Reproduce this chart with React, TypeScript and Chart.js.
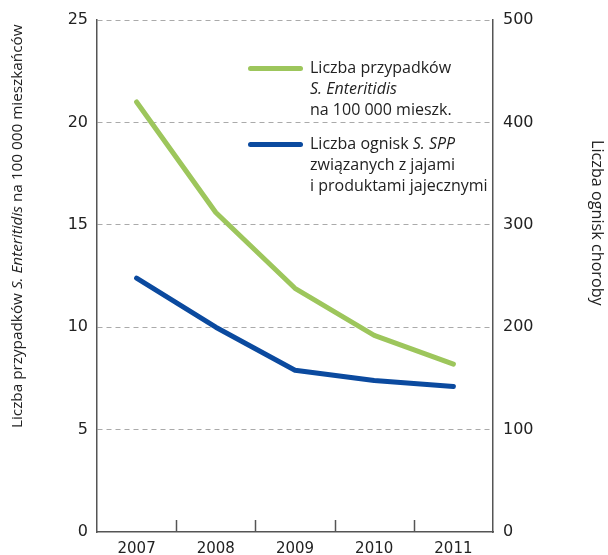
import React, { useEffect, useRef } from "react";
import { Chart, registerables } from "chart.js";

Chart.register(...registerables);

const years = ["2007", "2008", "2009", "2010", "2011"];
const casesPer100k = [21.0, 15.6, 11.9, 9.6, 8.2];
const outbreaks = [248, 200, 158, 148, 142];
const leftTicksMax = 25;
const rightTicksMax = 500;

const GREEN = "#9dc65c";
const BLUE = "#0b4a9f";
const AXIS = "#555555";
const GRID = "#aaaaaa";
const TEXT = "#222222";
const TEXT_FONT = "'Open Sans', 'Noto Sans', sans-serif";

const innerTicks = {
  id: "innerTicks",
  beforeDatasetsDraw(chart: any) {
    const x = chart.scales.x;
    const { ctx, chartArea } = chart;
    ctx.save();
    ctx.strokeStyle = AXIS;
    ctx.lineWidth = 1.5;
    for (let i = 1; i < years.length; i++) {
      const px = Math.round(x.getPixelForValue(i - 0.5)) + 0.5;
      ctx.beginPath();
      ctx.moveTo(px, chartArea.bottom);
      ctx.lineTo(px, chartArea.bottom - 12);
      ctx.stroke();
    }
    ctx.restore();
  },
};

export default function App() {
  const ref = useRef<HTMLCanvasElement>(null);
  useEffect(() => {
    if (!ref.current) return;
    const tickFont = { family: "'DejaVu Sans', sans-serif", size: 16 };
    const chart = new Chart(ref.current, {
      type: "line",
      data: {
        labels: years,
        datasets: [
          {
            label: "Liczba przypadków S. Enteritidis na 100 000 mieszk.",
            data: casesPer100k,
            borderColor: GREEN,
            backgroundColor: GREEN,
            borderWidth: 5,
            pointRadius: 0,
            borderCapStyle: "round",
            borderJoinStyle: "round",
            yAxisID: "y",
          },
          {
            label: "Liczba ognisk S. SPP związanych z jajami i produktami jajecznymi",
            data: outbreaks,
            borderColor: BLUE,
            backgroundColor: BLUE,
            borderWidth: 5,
            pointRadius: 0,
            borderCapStyle: "round",
            borderJoinStyle: "round",
            yAxisID: "y1",
          },
        ],
      },
      options: {
        responsive: false,
        animation: false,
        layout: { padding: { top: 20, left: 0, right: 0, bottom: 0 } },
        plugins: { legend: { display: false }, tooltip: { enabled: false } },
        scales: {
          x: {
            offset: true,
            grid: { display: false },
            border: { display: true, color: AXIS, width: 1.5 },
            ticks: {
              font: { family: "'DejaVu Sans', sans-serif", size: 15 },
              color: TEXT,
              padding: 0,
              maxRotation: 0,
            },
            afterFit: (s: any) => {
              s.height = 23;
            },
          },
          y: {
            position: "left",
            min: 0,
            max: leftTicksMax,
            ticks: { stepSize: 5, font: tickFont, color: TEXT, padding: 9 },
            grid: {
              drawTicks: false,
              lineWidth: 1,
              color: (c: any) => (c.tick && c.tick.value === 0 ? "rgba(0,0,0,0)" : GRID),
            },
            border: { display: true, color: AXIS, width: 1.5, dash: [5, 4] },
            afterFit: (s: any) => {
              s.width = 97;
            },
          },
          y1: {
            position: "right",
            min: 0,
            max: rightTicksMax,
            ticks: { stepSize: 100, font: tickFont, color: TEXT, padding: 10 },
            grid: { drawOnChartArea: false, drawTicks: false },
            border: { display: true, color: AXIS, width: 1.5 },
            afterFit: (s: any) => {
              s.width = 115;
            },
          },
        },
      },
      plugins: [innerTicks],
    } as any);
    return () => chart.destroy();
  }, []);

  const legendText: React.CSSProperties = {
    position: "absolute",
    left: 310,
    fontFamily: TEXT_FONT,
    fontSize: 16,
    lineHeight: "21px",
    color: TEXT,
    whiteSpace: "nowrap",
  };
  const sample = (top: number, color: string): React.CSSProperties => ({
    position: "absolute",
    left: 248,
    top: top - 2.5,
    width: 55,
    height: 5,
    borderRadius: 3,
    background: color,
  });

  return (
    <div
      style={{
        position: "fixed",
        left: 0,
        top: 0,
        width: 608,
        height: 555,
        background: "#fff",
      }}
    >
      <canvas ref={ref} width={608} height={555} style={{ display: "block" }} />
      <div
        style={{
          position: "absolute",
          left: 8,
          top: 428,
          transform: "rotate(-90deg)",
          transformOrigin: "0 0",
          fontFamily: TEXT_FONT,
          fontSize: 15.3,
          color: TEXT,
          whiteSpace: "nowrap",
          lineHeight: "17px",
        }}
      >
        Liczba przypadków <i>S. Enteritidis</i> na 100 000 mieszkańców
      </div>
      <div
        style={{
          position: "absolute",
          left: 607,
          top: 140,
          transform: "rotate(90deg)",
          transformOrigin: "0 0",
          fontFamily: TEXT_FONT,
          fontSize: 16.2,
          color: TEXT,
          whiteSpace: "nowrap",
          lineHeight: "18px",
        }}
      >
        Liczba ognisk choroby
      </div>
      <div style={sample(68, GREEN)} />
      <div style={{ ...legendText, top: 57 }}>
        Liczba przypadków
        <br />
        <i>S. Enteritidis</i>
        <br />
        na 100 000 mieszk.
      </div>
      <div style={sample(144, BLUE)} />
      <div style={{ ...legendText, top: 133 }}>
        Liczba ognisk <i>S. SPP</i>
        <br />
        związanych z jajami
        <br />i produktami jajecznymi
      </div>
    </div>
  );
}
